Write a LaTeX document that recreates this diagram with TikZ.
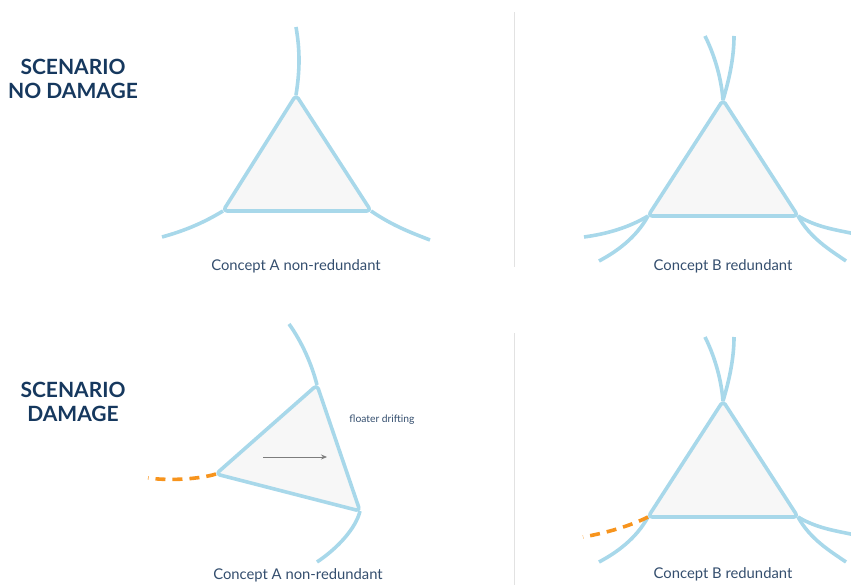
\documentclass[tikz,border=0pt]{standalone}
\usepackage{fontspec}
\setmainfont{Lato}
\usepackage{xcolor}
\usepackage{tikz}
\usetikzlibrary{arrows.meta}
\definecolor{myblue}{RGB}{168,216,234}
\definecolor{mygray}{RGB}{247,247,247}
\definecolor{myorange}{RGB}{247,148,29}
\definecolor{mynavy}{RGB}{22,56,94}
\definecolor{mytext}{RGB}{52,78,110}
\definecolor{myline}{RGB}{226,226,226}
\definecolor{myarrow}{RGB}{125,125,125}
\tikzset{
  rope/.style={line width=3.6pt, color=myblue},
  floater/.style={line width=3.6pt, draw=myblue, fill=mygray, rounded corners=4pt, line join=round},
  broken/.style={line width=3.6pt, color=myorange, dash pattern=on 10pt off 7pt},
  caption/.style={font=\fontsize{14.8}{17}\selectfont, text=mytext},
  note/.style={font=\fontsize{10.3}{12}\selectfont, text=mytext},
  title/.style={font=\fontsize{21}{24}\selectfont\bfseries, text=mynavy, align=center},
  divider/.style={line width=1pt, color=myline},
  drift/.style={-{Stealth[length=6pt,width=5pt]}, line width=0.8pt, color=myarrow}
}

\begin{document}
\begin{tikzpicture}[x=1pt, y=-1pt]
  \useasboundingbox (0,0) rectangle (851,585);
  \clip (0,0) rectangle (851,585);

  % Titles
  \node[title] (ttlA) at (73,79) {SCENARIO\\NO DAMAGE};
  \node[title] (ttlB) at (73,402) {SCENARIO\\DAMAGE};

  % Dividers
  \draw[divider] (514,12) -- (514,267);
  \draw[divider] (514,333) -- (514,585);

  % Concept A, no damage
  \coordinate (aT) at (296,95);
  \coordinate (aL) at (223,211);
  \coordinate (aR) at (371,211);
  \draw[rope] (aT) .. controls (300,70) and (300,50) .. (296,27);
  \draw[rope] (aL) .. controls (200,225) and (180,232) .. (162,237);
  \draw[rope] (aR) .. controls (393,226) and (412,233) .. (430,240);
  \draw[floater] (aT) -- (aR) -- (aL) -- cycle;
  \node[caption] (capA) at (296,266) {Concept A non-redundant};

  % Concept B, no damage
  \coordinate (bT) at (723,100);
  \coordinate (bL) at (648,216);
  \coordinate (bR) at (798,216);
  \draw[rope] (bT) .. controls (721,75) and (713,52) .. (705,36);
  \draw[rope] (bT) .. controls (729,80) and (734,58) .. (734,36);
  \draw[rope] (bL) .. controls (628,228) and (606,234) .. (584,237);
  \draw[rope] (bL) .. controls (636,238) and (616,252) .. (599,261);
  \draw[rope] (bR) .. controls (818,228) and (838,230) .. (855,234);
  \draw[rope] (bR) .. controls (810,238) and (830,250) .. (846,261);
  \draw[floater] (bT) -- (bR) -- (bL) -- cycle;
  \node[caption] (capB) at (723,266) {Concept B redundant};

  % Concept A, damage
  \coordinate (cT) at (317,385);
  \coordinate (cL) at (216,474);
  \coordinate (cR) at (360,511);
  \draw[rope] (cT) .. controls (312,365) and (302,342) .. (289,324);
  \draw[rope] (cR) .. controls (356,528) and (338,548) .. (317,562);
  \draw[broken] (cL) .. controls (200,479) and (170,481) .. (148,478);
  \draw[floater] (cT) -- (cR) -- (cL) -- cycle;
  \coordinate (dS) at (263,457);
  \coordinate (dE) at (327,457);
  \draw[drift] (dS) -- (dE);
  \node[note] (drf) at (382,420) {floater drifting};
  \node[caption] (capC) at (298,575) {Concept A non-redundant};

  % Concept B, damage
  \coordinate (eT) at (723,401);
  \coordinate (eL) at (648,517);
  \coordinate (eR) at (798,517);
  \draw[rope] (eT) .. controls (721,376) and (713,353) .. (705,337);
  \draw[rope] (eT) .. controls (729,381) and (734,359) .. (734,337);
  \draw[rope] (eL) .. controls (636,539) and (616,553) .. (599,562);
  \draw[broken] (eL) .. controls (630,526) and (606,533) .. (583,537);
  \draw[rope] (eR) .. controls (818,529) and (838,531) .. (855,535);
  \draw[rope] (eR) .. controls (810,539) and (830,551) .. (846,562);
  \draw[floater] (eT) -- (eR) -- (eL) -- cycle;
  \node[caption] (capD) at (723,574) {Concept B redundant};
\end{tikzpicture}
\end{document}
